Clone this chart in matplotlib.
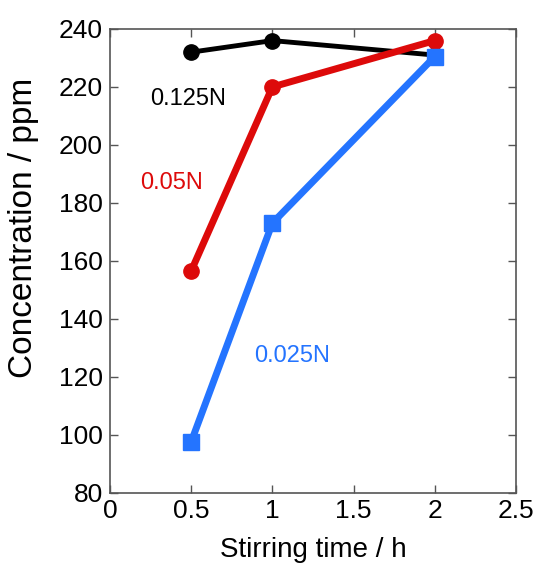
import matplotlib.pyplot as plt

# Stirring time (h) and concentration (ppm) for each HCl normality
time_h = [0.5, 1, 2]
conc_0125N = [232, 236, 231]
conc_005N = [156.5, 220, 236]
conc_0025N = [97.5, 173, 230.5]

x_ticks = [0, 0.5, 1, 1.5, 2, 2.5]
x_tick_labels = ['0', '0.5', '1', '1.5', '2', '2.5']
y_ticks = [80, 100, 120, 140, 160, 180, 200, 220, 240]

plt.rcParams['font.family'] = ['Liberation Sans', 'DejaVu Sans']

fig = plt.figure(figsize=(5.33, 5.69), dpi=100)
ax = fig.add_axes([110 / 533, 1 - 492.5 / 569, 406 / 533, 463.5 / 569])

ax.plot(time_h, conc_0125N, color='black', lw=3.5, marker='o', ms=11, zorder=3)
ax.plot(time_h, conc_005N, color='#dd0a0a', lw=5, marker='o', ms=11, zorder=3)
ax.plot(time_h, conc_0025N, color='#2474ff', lw=5, marker='s', ms=11, zorder=4)

ax.text(0.48, 216, '0.125N', color='black', fontsize=17, ha='center', va='center')
ax.text(0.38, 187, '0.05N', color='#dd0a0a', fontsize=17, ha='center', va='center')
ax.text(1.12, 127, '0.025N', color='#2474ff', fontsize=17, ha='center', va='center')

ax.set_xlim(0, 2.5)
ax.set_ylim(80, 240)
ax.set_xticks(x_ticks)
ax.set_xticklabels(x_tick_labels)
ax.set_yticks(y_ticks)
ax.tick_params(direction='in', length=6, width=1, labelsize=19, top=True, right=True,
               color='#555555', pad=5)
for s in ax.spines.values():
    s.set_color('#555555')
    s.set_linewidth(1.2)

ax.set_xlabel('Stirring time / h', fontsize=20, labelpad=10)
ax.set_ylabel('Concentration / ppm', fontsize=24)
ax.yaxis.set_label_coords(-0.175, 0.57)

fig.savefig('out.png', dpi=100)
